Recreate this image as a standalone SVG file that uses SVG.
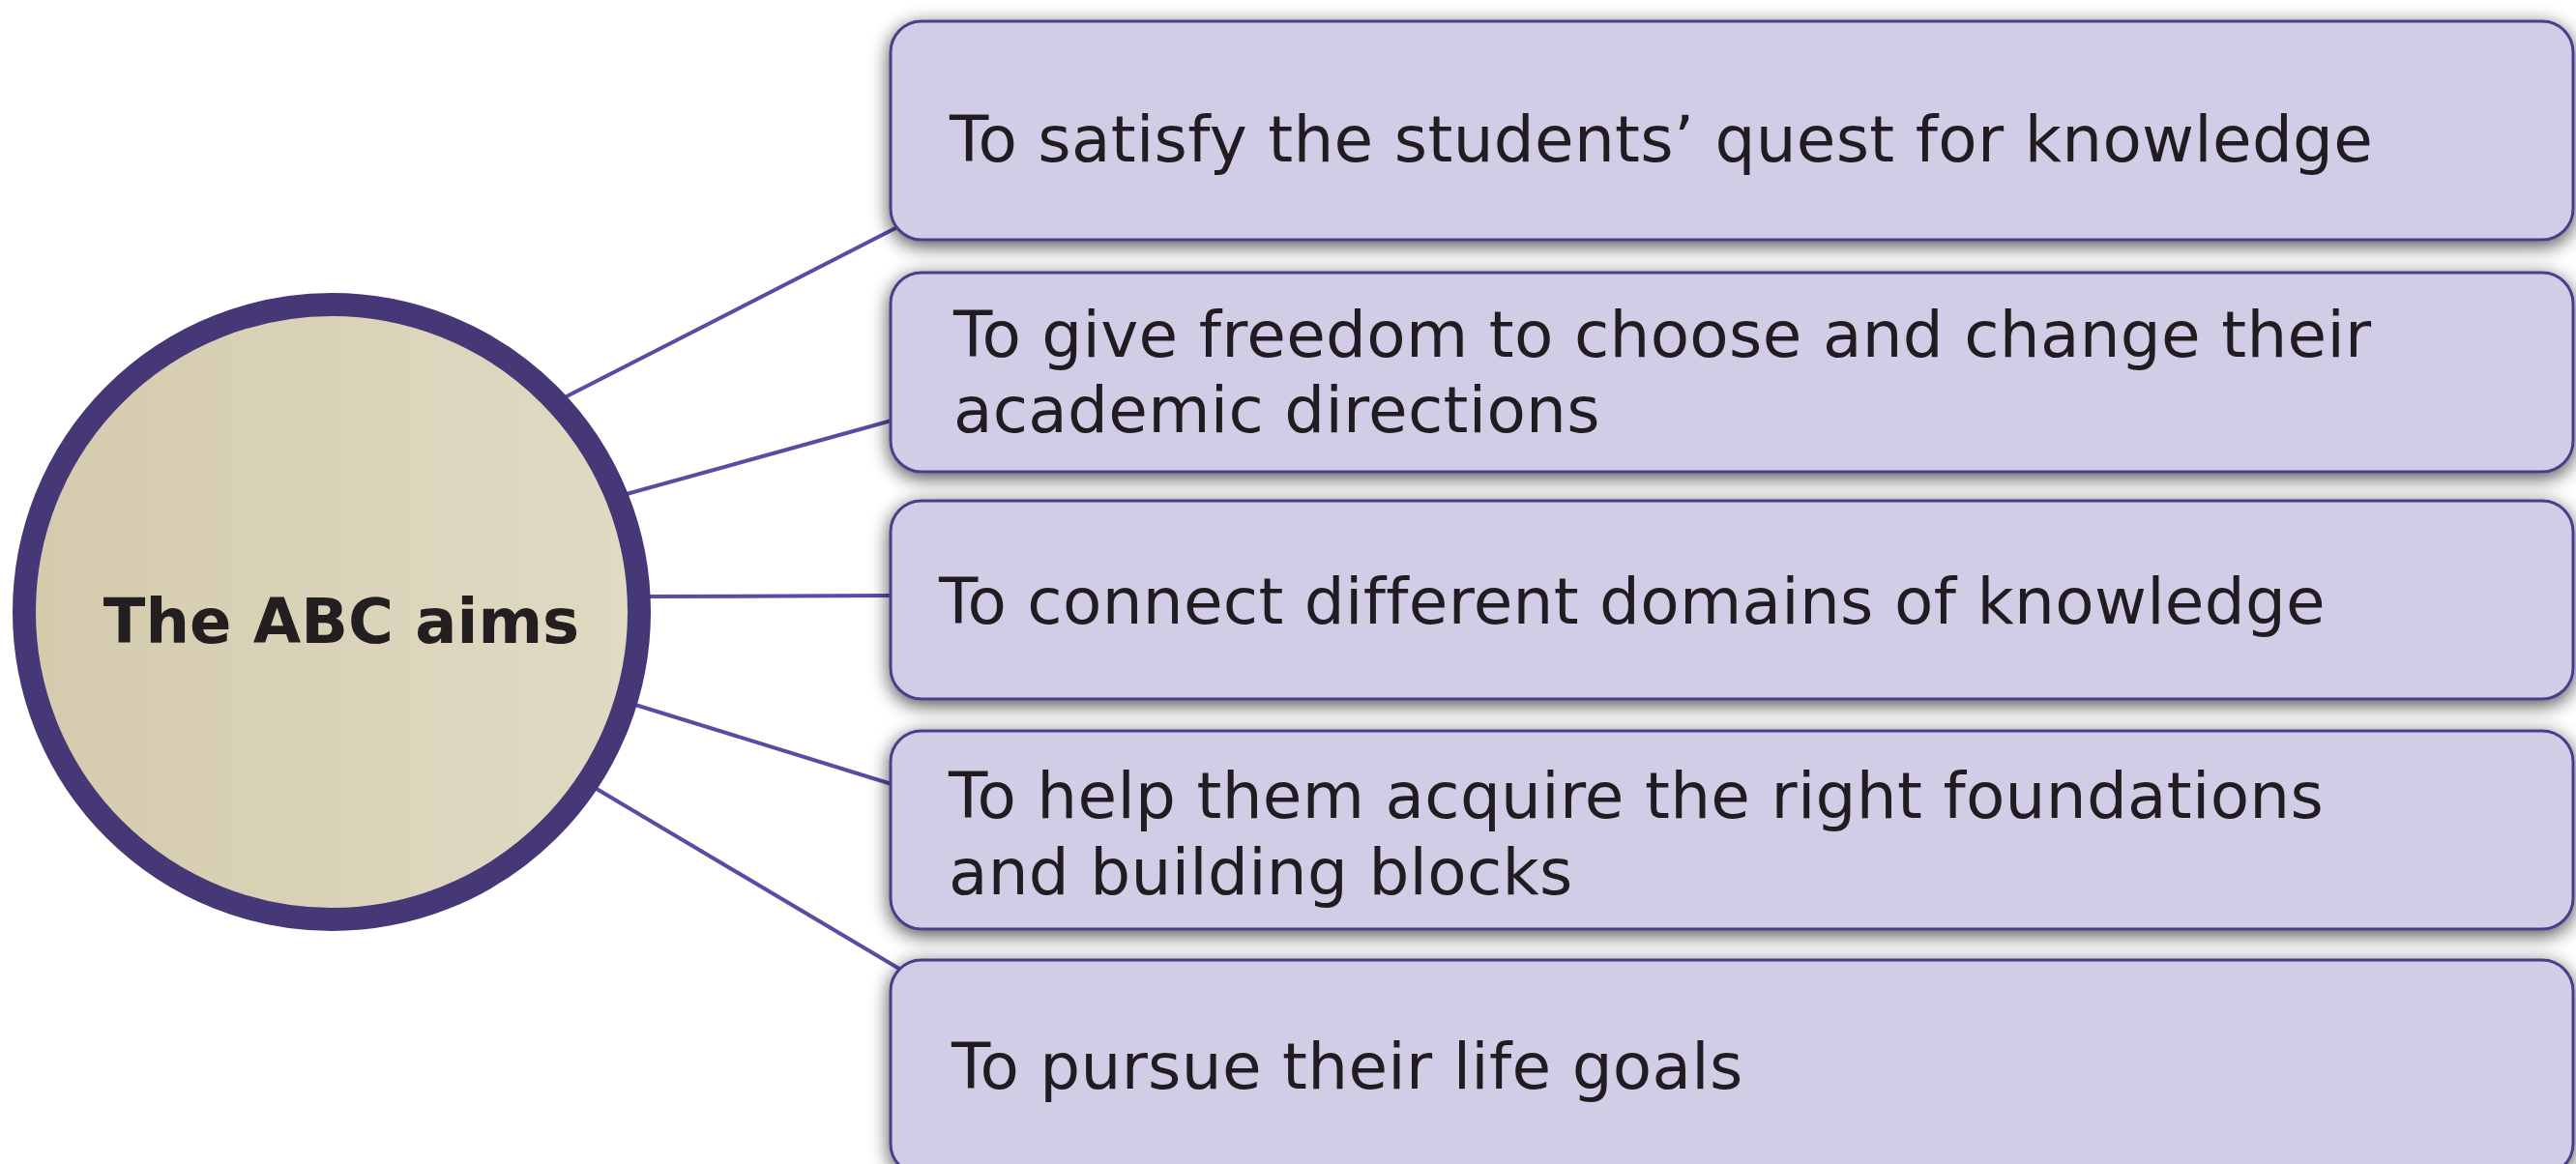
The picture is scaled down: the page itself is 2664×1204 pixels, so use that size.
<svg xmlns="http://www.w3.org/2000/svg" width="2664" height="1204" viewBox="0 0 2664 1204">
<defs>
<linearGradient id="hub" x1="0" y1="0" x2="1" y2="0">
<stop offset="0" stop-color="#D4CBAD"/>
<stop offset="1" stop-color="#E1DAC4"/>
</linearGradient>
<filter id="sh" x="-5%" y="-30%" width="110%" height="160%">
<feGaussianBlur in="SourceAlpha" stdDeviation="10"/>
<feOffset dx="0" dy="5" result="b"/>
<feComponentTransfer><feFuncA type="linear" slope="0.7"/></feComponentTransfer>
<feMerge><feMergeNode/><feMergeNode in="SourceGraphic"/></feMerge>
</filter>
</defs>
<style>
.box{fill:#D1CDE6;stroke:#4B3D8A;stroke-width:3}
.lbl{font-family:"DejaVu Sans",Verdana,sans-serif;font-size:66px;letter-spacing:0.3px;fill:#231F20}
.hubt{font-family:"DejaVu Sans",Verdana,sans-serif;font-size:64px;font-weight:bold;fill:#231F20}
.con{stroke:#5A4BA3;stroke-width:4;fill:none;stroke-linecap:round}
</style>
<rect width="2664" height="1204" fill="#FFFFFF"/>
<g id="connectors">
<line class="con" x1="586" y1="410" x2="928" y2="235"/>
<line class="con" x1="648" y1="511" x2="922" y2="435"/>
<line class="con" x1="672" y1="617" x2="922" y2="616"/>
<line class="con" x1="657" y1="729" x2="922" y2="811"/>
<line class="con" x1="617" y1="816" x2="930" y2="1002"/>
</g>
<g id="hub">
<circle cx="343" cy="633" r="318" fill="url(#hub)" stroke="#463776" stroke-width="24"/>
<text class="hubt" x="353" y="665" text-anchor="middle">The ABC aims</text>
</g>
<g id="aim1" filter="url(#sh)">
<rect class="box" x="921" y="22" width="1740" height="226" rx="32"/>
<text class="lbl" x="982" y="167">To satisfy the students’ quest for knowledge</text>
</g>
<g id="aim2" filter="url(#sh)">
<rect class="box" x="921" y="282" width="1740" height="206" rx="32"/>
<text class="lbl" x="986" y="369">To give freedom to choose and change their</text>
<text class="lbl" x="986" y="447">academic directions</text>
</g>
<g id="aim3" filter="url(#sh)">
<rect class="box" x="921" y="518" width="1740" height="205" rx="32"/>
<text class="lbl" x="971" y="645">To connect different domains of knowledge</text>
</g>
<g id="aim4" filter="url(#sh)">
<rect class="box" x="921" y="756" width="1740" height="205" rx="32"/>
<text class="lbl" x="981" y="846">To help them acquire the right foundations</text>
<text class="lbl" x="981" y="925">and building blocks</text>
</g>
<g id="aim5" filter="url(#sh)">
<rect class="box" x="921" y="993" width="1740" height="222" rx="32"/>
<text class="lbl" x="984" y="1126">To pursue their life goals</text>
</g>
</svg>
